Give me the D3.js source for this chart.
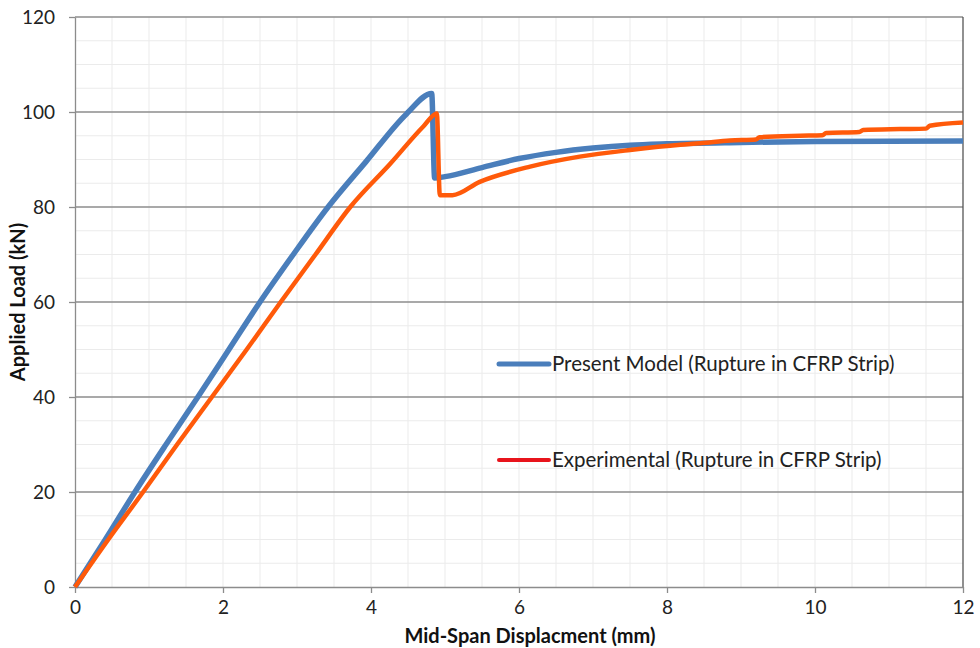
<!DOCTYPE html>
<html><head><meta charset="utf-8">
<script src="https://cdn.jsdelivr.net/npm/d3@7"></script>
<style>body{margin:0;background:#fff}svg{display:block}</style>
</head><body><svg id="c" width="980" height="648"></svg>
<script>
const xTicks = [0, 2, 4, 6, 8, 10, 12];
const yTicks = [0, 20, 40, 60, 80, 100, 120];
const modelX = [0, 0.41, 0.81, 1.23, 1.66, 2.08, 2.5, 2.95, 3.42, 3.93, 4.48, 4.82, 4.86, 5.0, 5.5, 6.0, 6.5, 7.0, 7.5, 8.0, 9.0, 10.0, 12.0];
const modelY = [0, 10, 20, 30, 40, 50, 60, 70, 80, 89.5, 99.6, 103.9, 86.1, 86.4, 88.3, 90.2, 91.5, 92.4, 93.0, 93.3, 93.6, 93.8, 93.9];
const expX = [0, 0.45, 0.92, 1.38, 1.85, 2.32, 2.78, 3.25, 3.72, 4.26, 4.71, 4.89, 4.93, 5.1, 5.47, 6.15, 6.82, 7.5, 8.18, 8.45, 8.85, 9.2, 9.25, 9.8, 10.1, 10.15, 10.6, 10.65, 11.15, 11.5, 11.55, 12.0];
const expY = [0, 10, 20, 30, 40, 50, 60, 70, 80, 89.1, 97.0, 99.7, 82.5, 82.5, 85.3, 88.5, 90.6, 92.0, 93.1, 93.4, 94.0, 94.2, 94.7, 95.0, 95.1, 95.6, 95.8, 96.2, 96.4, 96.5, 97.1, 97.8];
const seriesNames = ["Present Model (Rupture in CFRP Strip)", "Experimental (Rupture in CFRP Strip)"];

const svg = d3.select("#c");
const L = 75, R = 963, T = 17, B = 587;
const x = d3.scaleLinear().domain([0, 12]).range([L, R]);
const y = d3.scaleLinear().domain([0, 120]).range([B, T]);
const font = "Lato, 'Open Sans', sans-serif";

const g = svg.append("g");
g.selectAll(".mv").data(d3.range(0.5, 12, 0.5)).enter().append("line")
  .attr("x1", d => x(d)).attr("x2", d => x(d)).attr("y1", T).attr("y2", B)
  .attr("stroke", "#ebebeb").attr("stroke-width", 1);
g.selectAll(".mh").data(d3.range(5, 120, 5).filter(v => v % 20 !== 0)).enter().append("line")
  .attr("x1", L).attr("x2", R).attr("y1", d => y(d)).attr("y2", d => y(d))
  .attr("stroke", "#ebebeb").attr("stroke-width", 1);
g.selectAll(".Mh").data(yTicks.filter(v => v > 0)).enter().append("line")
  .attr("x1", L).attr("x2", R).attr("y1", d => y(d)).attr("y2", d => y(d))
  .attr("stroke", "#8c8c8c").attr("stroke-width", 1.3);
svg.append("line").attr("x1", R).attr("x2", R).attr("y1", T).attr("y2", B).attr("stroke", "#555").attr("stroke-width", 1.3);

const xa = svg.append("g").attr("transform", `translate(0,${B})`)
  .call(d3.axisBottom(x).tickValues(xTicks).tickSize(6).tickSizeOuter(0).tickPadding(8));
const ya = svg.append("g").attr("transform", `translate(${L},0)`)
  .call(d3.axisLeft(y).tickValues(yTicks).tickSize(6).tickSizeOuter(0).tickPadding(14));
[xa, ya].forEach(a => {
  a.select(".domain").attr("stroke", "#8c8c8c").attr("stroke-width", 1.3);
  a.selectAll(".tick line").attr("stroke", "#8c8c8c").attr("stroke-width", 1.3);
  a.selectAll("text").attr("font-family", font).attr("font-size", 19).attr("fill", "#222");
});

const line = d3.line().x(d => x(d[0])).y(d => y(d[1])).curve(d3.curveMonotoneX);
const expData = expX.map((v, i) => [v, expY[i]]);
const modelData = modelX.map((v, i) => [v, modelY[i]]);
svg.append("path").datum(modelData).attr("d", line).attr("fill", "none")
  .attr("stroke", "#4a7ebb").attr("stroke-width", 5.5).attr("stroke-linejoin", "round");
svg.append("path").datum(expData).attr("d", line).attr("fill", "none")
  .attr("stroke", "#ff5a0a").attr("stroke-width", 4.5).attr("stroke-linejoin", "round");

svg.append("text").attr("x", 530).attr("y", 643).attr("text-anchor", "middle")
  .attr("font-family", font).attr("font-weight", "bold").attr("font-size", 20).attr("fill", "#111")
  .text("Mid-Span Displacment (mm)");
svg.append("text").attr("transform", "translate(25,302) rotate(-90)").attr("text-anchor", "middle")
  .attr("font-family", font).attr("font-weight", "bold").attr("font-size", 20).attr("fill", "#111")
  .text("Applied Load (kN)");

const leg = [{name: seriesNames[0], color: "#4a7ebb", w: 5, yy: 364}, {name: seriesNames[1], color: "#e8141c", w: 4, yy: 460}];
leg.forEach(l => {
  svg.append("line").attr("x1", 499).attr("x2", 549).attr("y1", l.yy).attr("y2", l.yy)
    .attr("stroke", l.color).attr("stroke-width", l.w).attr("stroke-linecap", "round");
  svg.append("text").attr("x", 552).attr("y", l.yy + 7).attr("font-family", font).attr("font-size", 20.5)
    .attr("fill", "#222").text(l.name);
});
</script></body></html>
